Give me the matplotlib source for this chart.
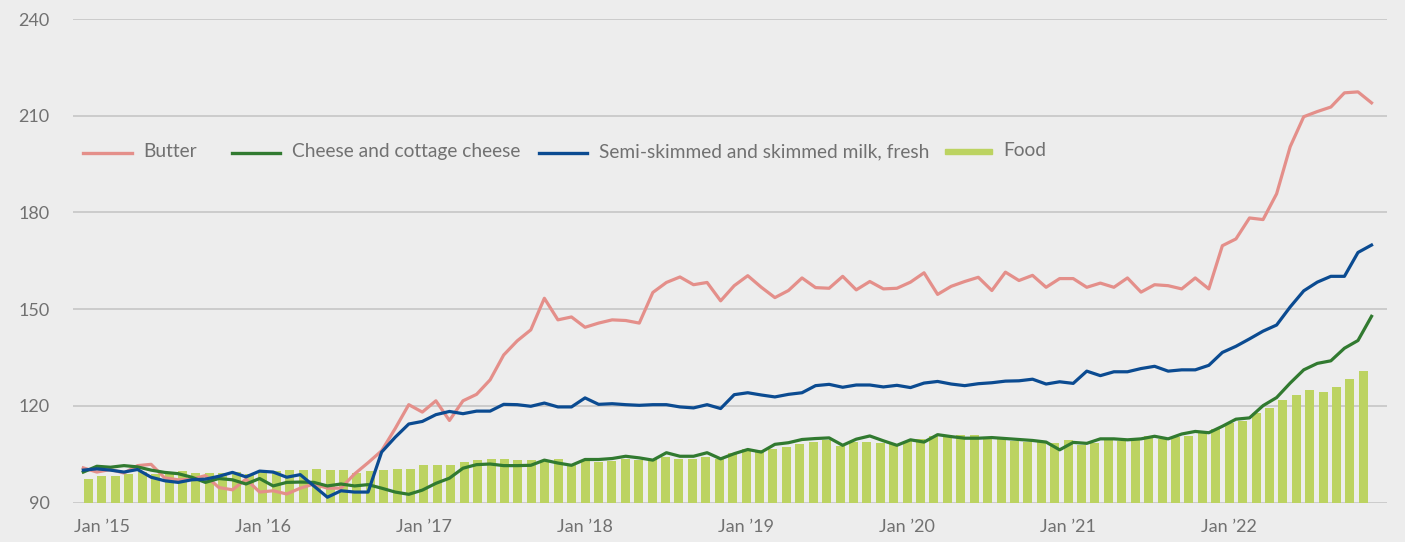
import numpy as np
import pandas as pd
import matplotlib
matplotlib.use("Agg")
import matplotlib.pyplot as plt
from matplotlib.lines import Line2D
from matplotlib.patches import Rectangle

# ---------------- data ----------------
months = pd.date_range("2014-12-01", periods=96, freq="MS")

butter = [100.8, 99.5, 100.3, 99.2, 101.5, 101.9, 97.7, 97.1, 97.3, 98.4, 94.7, 94.0,
          97.3, 93.3, 93.7, 92.7, 94.5, 95.8, 94.5, 94.5, 98.9, 102.4, 106.1, 113.0,
          120.4, 118.1, 121.6, 115.5, 121.6, 123.6, 128.1, 135.8, 140.2, 143.6, 153.4, 146.7,
          147.6, 144.4, 145.7, 146.7, 146.5, 145.7, 155.2, 158.3, 160.0, 157.6, 158.3, 152.6,
          157.3, 160.4, 156.8, 153.6, 155.8, 159.7, 156.7, 156.5, 160.2, 156.0, 158.6, 156.3,
          156.5, 158.4, 161.3, 154.6, 157.1, 158.6, 159.9, 155.8, 161.5, 158.9, 160.5, 156.8,
          159.5, 159.5, 156.8, 158.1, 156.8, 159.7, 155.3, 157.6, 157.3, 156.3, 159.7, 156.3,
          169.7, 171.8, 178.3, 177.8, 185.8, 200.4, 209.7, 211.3, 212.7, 217.1, 217.4, 214.0]

cheese = [99.5, 101.3, 101.0, 101.5, 101.1, 100.1, 99.4, 99.0, 97.9, 96.3, 97.5, 97.1,
          95.8, 97.5, 95.2, 96.3, 96.4, 96.3, 95.2, 95.8, 95.2, 95.6, 94.5, 93.3,
          92.6, 93.9, 96.0, 97.6, 100.7, 101.8, 102.0, 101.5, 101.5, 101.6, 103.2, 102.3,
          101.6, 103.4, 103.4, 103.7, 104.4, 103.9, 103.2, 105.5, 104.4, 104.4, 105.5, 103.6,
          105.2, 106.5, 105.7, 108.1, 108.6, 109.6, 109.9, 110.1, 107.8, 109.7, 110.7, 109.2,
          107.8, 109.5, 108.8, 111.1, 110.5, 110.0, 110.0, 110.2, 109.9, 109.6, 109.3, 108.8,
          106.4, 108.7, 108.4, 109.8, 109.8, 109.5, 109.8, 110.6, 109.8, 111.3, 112.1, 111.7,
          113.7, 115.9, 116.3, 120.1, 122.6, 127.1, 131.2, 133.2, 134.0, 137.9, 140.3, 147.8]

milk = [100.1, 100.5, 100.1, 99.5, 100.3, 97.9, 96.8, 96.3, 97.1, 97.3, 98.2, 99.4,
        98.0, 99.8, 99.5, 97.9, 98.7, 95.2, 91.7, 93.7, 93.3, 93.3, 105.7, 110.3,
        114.4, 115.2, 117.3, 118.3, 117.6, 118.4, 118.4, 120.5, 120.4, 119.9, 120.9, 119.7,
        119.7, 122.5, 120.5, 120.7, 120.4, 120.2, 120.4, 120.4, 119.7, 119.4, 120.4, 119.2,
        123.5, 124.1, 123.4, 122.8, 123.6, 124.1, 126.3, 126.7, 125.8, 126.5, 126.5, 125.9,
        126.4, 125.7, 127.1, 127.6, 126.8, 126.3, 126.9, 127.2, 127.7, 127.8, 128.3, 126.8,
        127.5, 127.0, 130.8, 129.4, 130.6, 130.6, 131.6, 132.3, 130.8, 131.2, 131.2, 132.6,
        136.6, 138.5, 140.8, 143.2, 145.1, 150.7, 155.7, 158.4, 160.2, 160.2, 167.6, 169.9]

food = [97.4, 98.3, 98.3, 98.8, 99.4, 99.0, 99.2, 99.9, 99.3, 99.3, 99.3, 99.5,
        98.8, 99.9, 99.9, 100.2, 100.2, 100.5, 100.0, 100.0, 99.3, 99.7, 100.0, 100.6,
        100.3, 101.8, 101.8, 101.8, 102.7, 103.1, 103.4, 103.4, 103.1, 103.1, 103.1, 103.4,
        102.0, 103.1, 102.5, 102.8, 103.6, 103.2, 103.4, 104.1, 103.7, 103.6, 104.1, 103.7,
        105.4, 106.7, 106.3, 106.8, 107.3, 108.1, 108.8, 109.5, 107.6, 108.8, 108.8, 108.4,
        108.1, 109.2, 109.9, 110.7, 110.9, 110.9, 110.9, 110.2, 109.9, 109.2, 108.8, 108.8,
        108.5, 109.5, 108.0, 108.5, 109.6, 109.1, 109.3, 110.6, 109.8, 110.3, 110.8, 111.6,
        112.9, 114.8, 115.2, 117.7, 119.3, 121.8, 123.4, 124.9, 124.3, 125.9, 128.4, 130.9]

series_labels = ["Butter", "Cheese and cottage cheese",
                 "Semi-skimmed and skimmed milk, fresh", "Food"]
tick_labels = ["Jan \u201915", "Jan \u201916", "Jan \u201917", "Jan \u201918",
               "Jan \u201919", "Jan \u201920", "Jan \u201921", "Jan \u201922"]
y_ticks = [90, 120, 150, 180, 210, 240]

# ---------------- style ----------------
BG = "#ededed"
GRID = "#c9c9c9"
TXT = "#717171"
C_BUTTER = "#e48f8a"
C_CHEESE = "#317a30"
C_MILK = "#0b4b91"
C_FOOD = "#bcd361"
FONT = ["Lato", "DejaVu Sans"]
plt.rcParams["font.family"] = FONT

W, H = 1405, 542
fig = plt.figure(figsize=(W / 100, H / 100), dpi=100, facecolor=BG)
L, R, T, B = 73, 1387, 19, 502.7
ax = fig.add_axes([L / W, (H - B) / H, (R - L) / W, (B - T) / H])
ax.set_facecolor(BG)

x_bar = np.arange(len(food))
ax.bar(x_bar, food, width=0.67, color=C_FOOD, zorder=2, bottom=0)
ax.set_xlim(-1.155, 96.76)
ax.set_ylim(90, 240)
ax.set_yticks(y_ticks)
ax.set_yticklabels([str(v) for v in y_ticks])
ax.grid(axis="y", color=GRID, linewidth=1.3, zorder=0)
ax.set_axisbelow(True)
tick_pos = [i for i, m in enumerate(months) if m.month == 1]
ax.set_xticks(tick_pos)
ax.set_xticklabels(tick_labels)
ax.tick_params(axis="both", length=0, colors=TXT, labelsize=13)
ax.tick_params(axis="y", pad=17)
ax.tick_params(axis="x", pad=12)
for s in ax.spines.values():
    s.set_visible(False)

# lines on a twin x-axis (points placed on tick marks across the full range)
ax2 = ax.twiny()
ax2.set_xlim(-0.76, 96.14)
ax2.set_ylim(90, 240)
x_line = np.arange(len(butter))
ax2.plot(x_line, butter, color=C_BUTTER, lw=2.3, zorder=3, solid_joinstyle="round")
ax2.plot(x_line, cheese, color=C_CHEESE, lw=2.3, zorder=3, solid_joinstyle="round")
ax2.plot(x_line, milk, color=C_MILK, lw=2.3, zorder=3, solid_joinstyle="round")
ax2.set_xticks([])
for s in ax2.spines.values():
    s.set_visible(False)

# ---------------- legend (manual layout) ----------------
def fx(px):
    return px / W

def fy(py):
    return (H - py) / H

legend_items = [
    ("line", C_BUTTER, 83, 132, 143, 153.3),
    ("line", C_CHEESE, 232, 280, 292, 153.3),
    ("line", C_MILK, 539, 587, 599, 153.3),
    ("patch", C_FOOD, 945, 992, 1003, 151.7),
]
for (kind, col, x0, x1, xt, yy), lab in zip(legend_items, series_labels):
    if kind == "line":
        fig.add_artist(Line2D([fx(x0), fx(x1)], [fy(yy), fy(yy)], color=col, lw=2.4,
                              transform=fig.transFigure))
    else:
        fig.add_artist(Rectangle((fx(x0), fy(yy + 2.6)), fx(x1 - x0), 5.2 / H,
                                 color=col, transform=fig.transFigure))
    fig.text(fx(xt), fy(yy - 1.5), lab, color=TXT, fontsize=13.8, va="center", ha="left")

fig.savefig("out.png", dpi=100, facecolor=BG)
